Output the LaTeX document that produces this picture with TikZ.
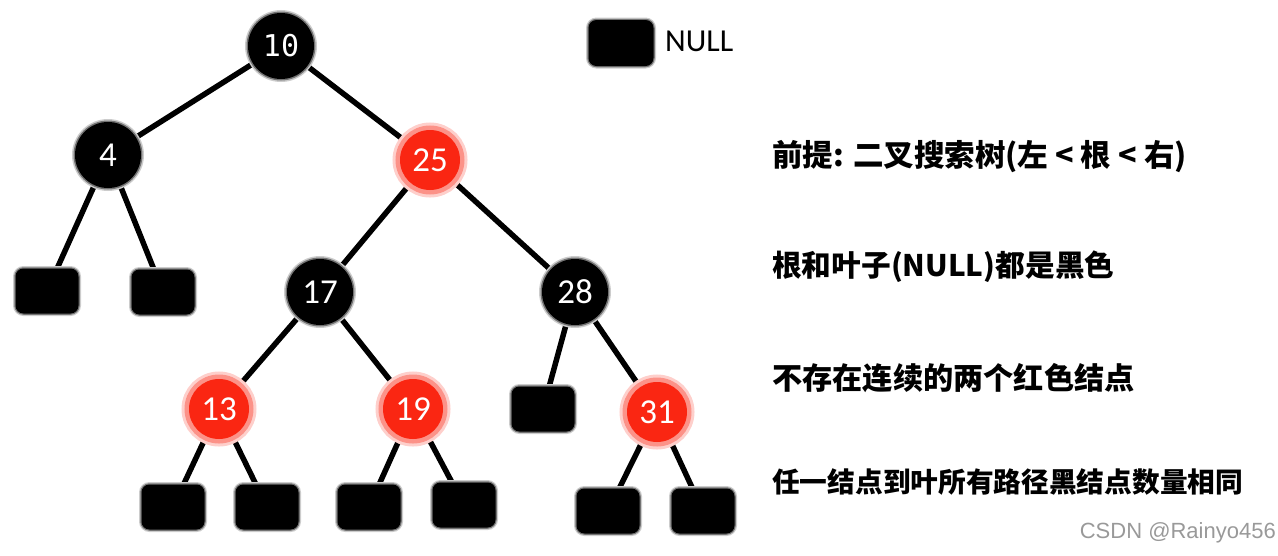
\documentclass[tikz,border=0pt]{standalone}
\usepackage{fontspec}
\setmainfont{Carlito}
\newfontfamily\cjk{Noto Sans CJK SC}
\newfontfamily\monof{DejaVu Sans Mono}
\newfontfamily\wmfont{Liberation Sans}
\usetikzlibrary{backgrounds}
\definecolor{nodered}{RGB}{250,38,18}
\begin{document}
\begin{tikzpicture}[x=1pt,y=1pt,
  bnode/.style={circle, fill=black, minimum size=66pt, inner sep=0pt, text=white,
    font=\fontsize{35}{35}\selectfont,
    preaction={draw=black!20, line width=6pt},
    preaction={draw=black!55, line width=3pt}},
  rnode/.style={circle, fill=nodered, minimum size=60pt, inner sep=0pt, text=white,
    font=\fontsize{35}{35}\selectfont,
    preaction={draw=nodered!22, line width=15pt},
    preaction={draw=nodered!50, line width=9pt}},
  leaf/.style={rectangle, rounded corners=8pt, fill=black, minimum width=63pt,
    minimum height=45pt, inner sep=0pt,
    preaction={draw=black!20, line width=5pt},
    preaction={draw=black!55, line width=2.5pt}},
  edge/.style={line width=5.5pt, black},
  rule/.style={anchor=west, inner sep=0pt}
]
\useasboundingbox (0,0) rectangle (1278,-555);

% tree nodes
\node[bnode, font=\monof\fontsize{30}{30}\selectfont] (n10) at (281,-46) {10};
\node[bnode] (n4) at (108,-155) {4};
\node[rnode] (n25) at (430,-160) {25};
\node[bnode] (n17) at (320,-292) {17};
\node[bnode] (n28) at (575,-292) {28};
\node[rnode] (n13) at (219,-409) {13};
\node[rnode] (n19) at (413,-409) {19};
\node[rnode] (n31) at (657,-412) {31};

% leaves
\node[leaf] (l1) at (47,-291) {};
\node[leaf] (l2) at (163,-292) {};
\node[leaf] (l3) at (543,-409) {};
\node[leaf] (l4) at (173,-507) {};
\node[leaf] (l5) at (267,-507) {};
\node[leaf] (l6) at (369,-507) {};
\node[leaf] (l7) at (464,-505) {};
\node[leaf] (l8) at (608,-511) {};
\node[leaf] (l9) at (703,-511) {};

% edges
\begin{scope}[on background layer]
\draw[edge] (n10.center) -- (n4.center);
\draw[edge] (n10.center) -- (n25.center);
\draw[edge] (n4.center) -- (l1.center);
\draw[edge] (n4.center) -- (l2.center);
\draw[edge] (n25.center) -- (n17.center);
\draw[edge] (n25.center) -- (n28.center);
\draw[edge] (n17.center) -- (n13.center);
\draw[edge] (n17.center) -- (n19.center);
\draw[edge] (n28.center) -- (l3.center);
\draw[edge] (n28.center) -- (n31.center);
\draw[edge] (n13.center) -- (l4.center);
\draw[edge] (n13.center) -- (l5.center);
\draw[edge] (n19.center) -- (l6.center);
\draw[edge] (n19.center) -- (l7.center);
\draw[edge] (n31.center) -- (l8.center);
\draw[edge] (n31.center) -- (l9.center);
\end{scope}

% legend
\node[leaf, minimum width=65pt, minimum height=46pt] (legbox) at (621,-43) {};
\node[anchor=west, inner sep=0pt, font=\fontsize{32}{32}\selectfont] (legtext) at (665,-41) {NULL};

% rules
\node[rule, font=\cjk\bfseries\fontsize{30.5}{31}\selectfont] (r1) at (772,-157) {前提: 二叉搜索树(左 < 根 < 右)};
\node[rule, font=\cjk\bfseries\fontsize{29.7}{30}\selectfont] (r2) at (772,-267) {根和叶子(NULL)都是黑色};
\node[rule, font=\cjk\bfseries\fontsize{30.2}{31}\selectfont] (r3) at (772,-378) {不存在连续的两个红色结点};
\node[rule, font=\cjk\bfseries\fontsize{27.7}{28}\selectfont] (r4) at (772,-482) {任一结点到叶所有路径黑结点数量相同};

% watermark
\node[anchor=east, inner sep=0pt, text=black!40, font=\wmfont\fontsize{22}{22}\selectfont] (wm) at (1276,-533) {CSDN @Rainyo456};
\end{tikzpicture}
\end{document}
